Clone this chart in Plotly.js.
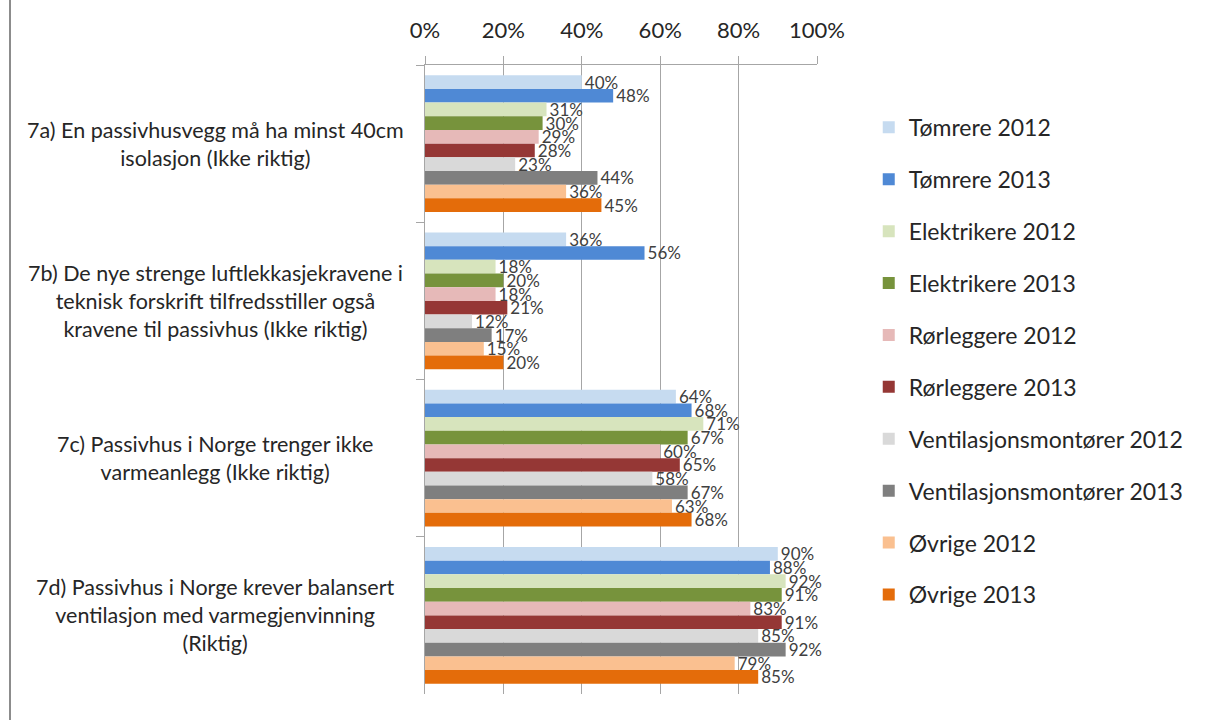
<!DOCTYPE html>
<html>
<head>
<meta charset="utf-8">
<script src="https://cdn.plot.ly/plotly-3.0.1.min.js"></script>
<style>
  html, body { margin: 0; padding: 0; background: #fff; }
  #wrap { position: relative; width: 1208px; height: 720px; }
  #chart { width: 1208px; height: 720px; }
  #edge { position: absolute; left: 9px; top: 0; width: 2px; height: 720px; background: #8c8c8c; }
</style>
</head>
<body>
<div id="wrap"><div id="chart"></div><div id="edge"></div></div>
<script>
// Categories (questions)
const categories = ['7a', '7b', '7c', '7d'];
const categoryLabels = [
  '7a) En passivhusvegg må ha minst 40cm<br>isolasjon (Ikke riktig)',
  '7b) De nye strenge luftlekkasjekravene i<br>teknisk forskrift tilfredsstiller også<br>kravene til passivhus (Ikke riktig)',
  '7c) Passivhus i Norge trenger ikke<br>varmeanlegg (Ikke riktig)',
  '7d) Passivhus i Norge krever balansert<br>ventilasjon med varmegjenvinning<br>(Riktig)'
];

// Series names
const seriesNames = [
  'Tømrere 2012', 'Tømrere 2013',
  'Elektrikere 2012', 'Elektrikere 2013',
  'Rørleggere 2012', 'Rørleggere 2013',
  'Ventilasjonsmontører 2012', 'Ventilasjonsmontører 2013',
  'Øvrige 2012', 'Øvrige 2013'
];

// Values (share, 0-1) per series across 7a, 7b, 7c, 7d
const tomrere2012 = [0.40, 0.36, 0.64, 0.90];
const tomrere2013 = [0.48, 0.56, 0.68, 0.88];
const elektrikere2012 = [0.31, 0.18, 0.71, 0.92];
const elektrikere2013 = [0.30, 0.20, 0.67, 0.91];
const rorleggere2012 = [0.29, 0.18, 0.60, 0.83];
const rorleggere2013 = [0.28, 0.21, 0.65, 0.91];
const ventilasjon2012 = [0.23, 0.12, 0.58, 0.85];
const ventilasjon2013 = [0.44, 0.17, 0.67, 0.92];
const ovrige2012 = [0.36, 0.15, 0.63, 0.79];
const ovrige2013 = [0.45, 0.20, 0.68, 0.85];

const seriesValues = [
  tomrere2012, tomrere2013, elektrikere2012, elektrikere2013,
  rorleggere2012, rorleggere2013, ventilasjon2012, ventilasjon2013,
  ovrige2012, ovrige2013
];

const seriesColors = [
  '#C6DBF0', '#4F89D5',
  '#D7E4BD', '#77933C',
  '#E6B9B8', '#953735',
  '#D9D9D9', '#7F7F7F',
  '#FAC090', '#E46C0A'
];

const tickVals = [0, 0.2, 0.4, 0.6, 0.8, 1.0];
const tickText = ['0%', '20%', '40%', '60%', '80%', '100%'];

const FONT = 'Lato, Carlito, "Open Sans", sans-serif';

const traces = seriesNames.map((name, i) => ({
  type: 'bar',
  orientation: 'h',
  name: name,
  legendgroup: 'g' + i,
  y: categories,
  x: seriesValues[i],
  text: seriesValues[i].map(v => Math.round(v * 100) + '%'),
  textposition: 'outside',
  constraintext: 'none',
  cliponaxis: false,
  textfont: { family: FONT, size: 17, color: '#404040' },
  marker: { color: seriesColors[i], line: { width: 0 } },
  hoverinfo: 'skip'
}));

const annotations = categories.map((c, i) => ({
  xref: 'paper', yref: 'y',
  x: -0.535, y: c,
  xanchor: 'center', yanchor: 'middle',
  align: 'center',
  text: categoryLabels[i],
  showarrow: false,
  font: { family: FONT, size: 21.5, color: '#262626' }
}));

const layout = {
  width: 1208, height: 720,
  margin: { l: 425, r: 391, t: 65, b: 26, pad: 0 },
  paper_bgcolor: '#fff', plot_bgcolor: '#fff',
  barmode: 'group',
  bargap: 0.13,
  bargroupgap: 0,
  showlegend: true,
  font: { family: FONT, color: '#262626' },
  xaxis: {
    side: 'top',
    range: [0, 1],
    tickvals: tickVals,
    ticktext: tickText,
    tickfont: { family: FONT, size: 22, color: '#262626' },
    ticklabelstandoff: 9,
    showgrid: true, gridcolor: '#A6A6A6', gridwidth: 1,
    showline: true, linecolor: '#A6A6A6', linewidth: 1,
    ticks: 'outside', ticklen: 8, tickcolor: '#A6A6A6',
    zeroline: false, fixedrange: true
  },
  yaxis: {
    type: 'category',
    autorange: 'reversed',
    showticklabels: false,
    ticks: 'outside', ticklen: 8, tickcolor: '#A6A6A6',
    tickson: 'boundaries',
    showline: true, linecolor: '#A6A6A6', linewidth: 1,
    showgrid: false, zeroline: false, fixedrange: true
  },
  legend: {
    x: 1.132, xanchor: 'left',
    y: 0.935, yanchor: 'top',
    traceorder: 'grouped',
    tracegroupgap: 19,
    font: { family: FONT, size: 23, color: '#262626' },
    itemwidth: 30,
    bgcolor: 'rgba(0,0,0,0)'
  },
  annotations: annotations
};

Plotly.newPlot('chart', traces, layout, { displayModeBar: false, staticPlot: true });
</script>
</body>
</html>
